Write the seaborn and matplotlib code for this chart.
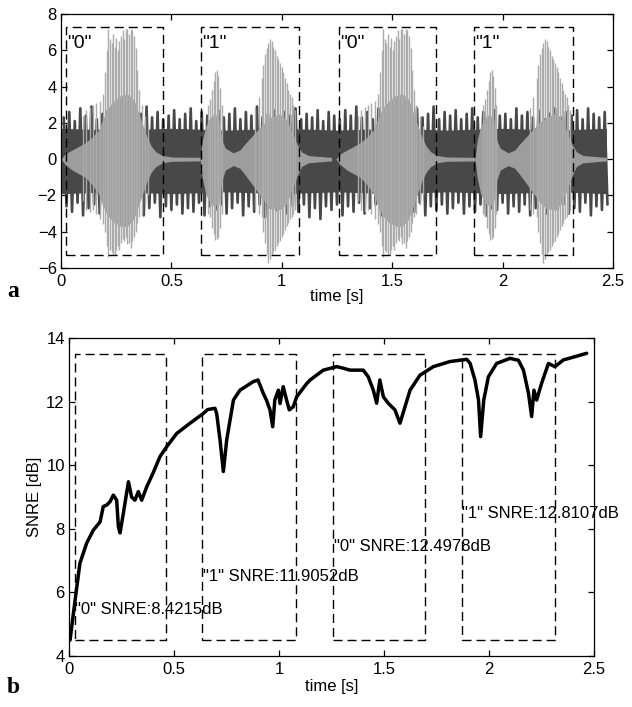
import numpy as np
import pandas as pd
import matplotlib
matplotlib.use("Agg")
import matplotlib.pyplot as plt
import seaborn as sns

# ---- panel a: waveform envelopes ----
# noise body envelope
noise_env_t = [0.0, 0.25, 0.5, 0.75, 1.0, 1.25, 1.5, 1.75, 2.0, 2.25, 2.47]
noise_env_hi = [1.7, 1.6, 1.7, 1.6, 1.7, 1.6, 1.7, 1.6, 1.7, 1.6, 1.7]
noise_env_lo = [-1.9, -1.8, -1.9, -1.8, -1.9, -1.8, -1.9, -1.8, -1.9, -1.8, -1.9]

# noise spike tips, one every 25 ms starting at 12.5 ms
noise_hi = [
    2.3, 2.6, 2.1, 2.8, 2.4, 2.9, 2.2, 2.5, 2.7, 2.1,
    2.6, 2.3, 2.8, 2.2, 2.5, 2.9, 2.3, 2.6, 2.2, 2.4,
    2.7, 2.2, 2.5, 2.8, 2.1, 2.6, 2.4, 2.2, 2.7, 2.3,
    2.5, 2.8, 2.2, 2.6, 2.4, 2.9, 2.3, 2.5, 2.7, 2.2,
    2.6, 2.4, 2.8, 2.2, 2.5, 2.3, 2.7, 2.1, 2.6, 2.4,
    2.2, 2.7, 2.4, 2.9, 2.3, 2.6, 2.2, 2.8, 2.5, 2.3,
    2.6, 2.2, 2.7, 2.4, 2.8, 2.3, 2.5, 2.9, 2.2, 2.6,
    2.4, 2.7, 2.2, 2.5, 2.8, 2.3, 2.6, 2.2, 2.7, 2.4,
    2.5, 2.2, 2.8, 2.4, 2.6, 2.3, 2.7, 2.2, 2.5, 2.8,
    2.3, 2.6, 2.4, 2.7, 2.2, 2.8, 2.5, 2.3, 2.6,
]
noise_lo = [
    -2.6, -2.9, -2.4, -3.1, -2.7, -2.5, -3.0, -2.6, -2.8, -2.4,
    -3.0, -2.6, -2.9, -2.5, -3.1, -2.7, -2.4, -3.2, -2.6, -2.8,
    -2.5, -3.0, -2.7, -2.9, -2.4, -3.1, -2.6, -2.8, -2.5, -3.0,
    -2.7, -2.4, -3.1, -2.6, -2.9, -2.5, -3.2, -2.7, -2.8, -2.4,
    -3.0, -2.6, -2.9, -2.5, -3.2, -2.7, -3.3, -2.6, -2.8, -2.5,
    -3.1, -2.6, -2.9, -2.4, -3.0, -2.7, -2.5, -3.1, -2.6, -2.8,
    -2.5, -3.0, -2.7, -2.9, -2.4, -3.1, -2.6, -2.8, -2.5, -3.0,
    -2.7, -2.4, -3.0, -2.6, -2.9, -2.5, -3.1, -2.7, -2.8, -2.4,
    -3.0, -2.6, -2.9, -2.5, -3.1, -2.7, -2.4, -3.0, -2.6, -2.8,
    -2.5, -3.0, -2.7, -2.9, -2.4, -3.1, -2.6, -2.8, -2.5,
]
noise_t = np.arange(len(noise_hi)) * 0.025 + 0.0125

# the two words, each said twice; shapes are relative to the word onset
word_labels = ['"0"', '"1"', '"0"', '"1"']
word_onsets = [0.0, 0.63, 1.245, 1.875]

zero_t = [0.00, 0.02, 0.05, 0.08, 0.11, 0.14, 0.17, 0.19, 0.21, 0.24, 0.27,
          0.30, 0.33, 0.35, 0.37, 0.39, 0.41, 0.43, 0.46, 0.50, 0.63]
zero_hi = [0.0, 0.3, 0.5, 0.7, 0.9, 1.2, 1.6, 2.2, 2.8, 3.2, 3.5,
           3.6, 3.3, 2.6, 1.9, 1.2, 0.7, 0.4, 0.2, 0.12, 0.1]
zero_lo = [0.0, -0.3, -0.6, -0.8, -1.0, -1.4, -1.9, -2.6, -3.1, -3.5, -3.7,
           -3.7, -3.3, -2.6, -1.9, -1.2, -0.7, -0.4, -0.2, -0.12, -0.1]
zero_sp_t = [0.10, 0.115, 0.13, 0.145, 0.16, 0.175, 0.19, 0.200, 0.207, 0.214,
             0.221, 0.229, 0.236, 0.243, 0.250, 0.258, 0.265, 0.272, 0.280, 0.287,
             0.294, 0.301, 0.309, 0.316, 0.323, 0.330, 0.338, 0.345, 0.355, 0.365,
             0.38, 0.395]
zero_sp_hi = [2.4, 2.7, 2.9, 3.0, 3.1, 3.2, 3.6, 4.8, 6.0, 7.2,
              6.6, 6.4, 6.9, 6.2, 6.7, 6.0, 6.5, 6.8, 7.1, 6.6,
              7.2, 7.2, 6.9, 7.2, 7.1, 6.8, 6.1, 4.9, 3.8, 3.0,
              2.4, 1.8]
zero_sp_lo = [-2.3, -2.8, -2.9, -2.8, -3.0, -3.3, -3.6, -4.0, -4.8, -5.4,
              -5.0, -5.1, -5.3, -5.3, -5.0, -4.8, -5.0, -4.6, -4.4, -4.5,
              -4.3, -4.7, -4.6, -4.9, -4.5, -4.3, -4.0, -3.5, -3.2, -3.0,
              -2.5, -2.0]

one_t = [0.0, 0.01, 0.025, 0.045, 0.065, 0.085, 0.10, 0.115, 0.15, 0.18, 0.20, 0.23,
         0.26, 0.29, 0.32, 0.36, 0.39, 0.42, 0.44, 0.46, 0.49, 0.57, 0.595]
one_hi = [0.0, 1.0, 1.8, 2.3, 2.5, 2.2, 1.0, 0.6, 0.35, 0.5, 0.8, 1.2,
          1.6, 2.0, 2.3, 2.5, 2.2, 1.4, 0.8, 0.4, 0.2, 0.12, 0.1]
one_lo = [0.0, -1.0, -1.9, -2.4, -2.6, -2.4, -1.1, -0.6, -0.35, -0.5, -0.8, -1.3,
          -1.8, -2.3, -2.7, -2.8, -2.5, -1.6, -0.9, -0.4, -0.2, -0.12, -0.1]
one_sp_t = [0.035, 0.045, 0.055, 0.062, 0.069, 0.076, 0.083, 0.090, 0.097,
            0.25, 0.265, 0.279, 0.286, 0.294, 0.302, 0.309, 0.317, 0.324, 0.332,
            0.339, 0.347, 0.354, 0.362, 0.37, 0.377, 0.384, 0.392, 0.40, 0.407,
            0.415, 0.422, 0.43]
one_sp_hi = [3.0, 3.3, 3.8, 4.3, 4.8, 4.9, 4.6, 3.9, 3.0,
             2.8, 3.4, 4.5, 5.2, 5.8, 6.1, 6.4, 6.6, 6.5, 6.2,
             6.0, 5.7, 5.5, 5.3, 5.1, 4.8, 4.5, 4.2, 3.8, 3.6,
             3.4, 3.0, 2.7]
one_sp_lo = [-3.0, -3.2, -3.8, -4.1, -4.45, -4.4, -4.3, -3.8, -3.0,
             -2.8, -3.0, -3.2, -4.0, -4.6, -5.2, -5.7, -5.5, -5.3, -5.1,
             -5.0, -4.8, -4.6, -4.5, -4.3, -4.1, -3.9, -3.7, -3.5, -3.3,
             -3.2, -3.0, -2.8]

# dashed word boxes
boxes_a_x = [(0.023, 0.46), (0.634, 1.08), (1.26, 1.70), (1.87, 2.32)]
boxes_a_y = (-5.3, 7.3)

# ---- panel b: SNRE over time ----
snre_t = [0.005, 0.029, 0.052, 0.084, 0.116, 0.148, 0.163, 0.18, 0.195, 0.211,
          0.227, 0.235, 0.243, 0.259, 0.283, 0.298, 0.314, 0.33, 0.346, 0.37,
          0.40, 0.433, 0.465, 0.513, 0.576, 0.64, 0.66, 0.695, 0.703, 0.719,
          0.735, 0.751, 0.783, 0.814, 0.878, 0.90, 0.925, 0.94, 0.957, 0.97,
          0.98, 0.997, 1.005, 1.02, 1.036, 1.049, 1.068, 1.084, 1.132, 1.148,
          1.211, 1.275, 1.306, 1.338, 1.401, 1.425, 1.449, 1.465, 1.48, 1.497,
          1.52, 1.552, 1.576, 1.60, 1.624, 1.671, 1.735, 1.814, 1.894, 1.91,
          1.933, 1.95, 1.96, 1.975, 1.997, 2.036, 2.10, 2.14, 2.164, 2.188,
          2.203, 2.214, 2.227, 2.25, 2.283, 2.314, 2.354, 2.418, 2.465]
snre_db = [4.5, 5.76, 6.92, 7.55, 7.96, 8.22, 8.7, 8.75, 8.85, 9.06,
           8.9, 8.07, 7.87, 8.5, 9.48, 9.0, 8.9, 9.17, 8.9, 9.32,
           9.75, 10.27, 10.58, 11.0, 11.32, 11.63, 11.75, 11.79, 11.63, 10.8,
           9.8, 10.8, 12.05, 12.36, 12.63, 12.68, 12.26, 12.05, 11.74, 11.21,
           12.05, 12.36, 11.94, 12.47, 12.05, 11.74, 11.84, 12.15, 12.57, 12.68,
           12.99, 13.1, 13.05, 12.99, 12.99, 12.78, 12.36, 11.95, 12.68, 12.15,
           11.95, 11.74, 11.32, 11.84, 12.36, 12.83, 13.1, 13.26, 13.33, 13.2,
           12.68, 12.05, 10.9, 12.05, 12.78, 13.2, 13.36, 13.3, 12.99, 12.26,
           11.53, 12.36, 12.05, 12.57, 13.2, 13.1, 13.31, 13.43, 13.52]

boxes_b_x = [(0.027, 0.462), (0.635, 1.082), (1.259, 1.697), (1.87, 2.314)]
boxes_b_y = (4.5, 13.5)
snre_labels = ['"0" SNRE:8.4215dB', '"1" SNRE:11.9052dB',
               '"0" SNRE:12.4978dB', '"1" SNRE:12.8107dB']
snre_label_y = [5.45, 6.49, 7.44, 8.49]

# ---- style ----
sns.set_style("ticks", {"xtick.direction": "in", "ytick.direction": "in"})
plt.rcParams["font.family"] = ["Liberation Sans", "DejaVu Sans"]
plt.rcParams["font.size"] = 12
plt.rcParams["axes.linewidth"] = 0.9
plt.rcParams["axes.edgecolor"] = "black"
plt.rcParams["text.color"] = "black"
plt.rcParams["axes.labelcolor"] = "black"

NOISE = "#484848"
SPEECH = "#9d9d9d"
SPIKE = "#ababab"
dash = (0, (6.5, 3.6))

fig = plt.figure(figsize=(6.32, 7.07), dpi=100)
ax_a = fig.add_axes([0.0965, 0.6209, 0.8734, 0.3593])
ax_b = fig.add_axes([0.1092, 0.0721, 0.8307, 0.4498])

# panel a: noise first (zigzag between its spike tips), clean speech on top
ax_a.fill_between(noise_env_t, noise_env_lo, noise_env_hi, color=NOISE, lw=0, zorder=1)
zig_t = np.ravel(np.column_stack([noise_t, noise_t + 0.0125]))
zig_v = np.ravel(np.column_stack([noise_hi, noise_lo]))
ax_a.plot(zig_t, zig_v, color=NOISE, lw=1.9, zorder=1.2)

for label, onset in zip(word_labels, word_onsets):
    if label == '"0"':
        t, hi, lo, st, sh, sl = zero_t, zero_hi, zero_lo, zero_sp_t, zero_sp_hi, zero_sp_lo
    else:
        t, hi, lo, st, sh, sl = one_t, one_hi, one_lo, one_sp_t, one_sp_hi, one_sp_lo
    tt = np.array(t) + onset
    ax_a.fill_between(tt, lo, hi, color=SPEECH, lw=0, zorder=1.5)
    ax_a.vlines(np.array(st) + onset, sl, sh, color=SPIKE, lw=1.0, zorder=1.6)

for (x0, x1), label in zip(boxes_a_x, word_labels):
    ax_a.plot([x0, x1, x1, x0, x0],
              [boxes_a_y[0], boxes_a_y[0], boxes_a_y[1], boxes_a_y[1], boxes_a_y[0]],
              color="black", lw=1.0, ls=dash, zorder=3)
    ax_a.text(x0 + 0.004, 6.35, label, fontsize=14, va="center", ha="left", zorder=4)

ax_a.set_xlim(0, 2.5)
ax_a.set_ylim(-6, 8)
ax_a.set_xticks([0, 0.5, 1, 1.5, 2, 2.5])
ax_a.set_xticklabels(["0", "0.5", "1", "1.5", "2", "2.5"])
ax_a.set_yticks(np.arange(-6, 9, 2))
ax_a.set_xlabel("time [s]", labelpad=0)

# panel b
df = pd.DataFrame({"time": snre_t, "snre": snre_db})
sns.lineplot(data=df, x="time", y="snre", ax=ax_b, color="black", lw=2.5,
             sort=False, estimator=None)
for (x0, x1), txt, ty in zip(boxes_b_x, snre_labels, snre_label_y):
    ax_b.plot([x0, x1, x1, x0, x0],
              [boxes_b_y[0], boxes_b_y[0], boxes_b_y[1], boxes_b_y[1], boxes_b_y[0]],
              color="black", lw=1.0, ls=dash)
    ax_b.text(x0 + 0.003, ty, txt, fontsize=12, va="center", ha="left")

ax_b.set_xlim(0, 2.5)
ax_b.set_ylim(4, 14)
ax_b.set_xticks([0, 0.5, 1, 1.5, 2, 2.5])
ax_b.set_xticklabels(["0", "0.5", "1", "1.5", "2", "2.5"])
ax_b.set_yticks([4, 6, 8, 10, 12, 14])
ax_b.set_xlabel("time [s]", labelpad=2)
ax_b.set_ylabel("SNRE [dB]", labelpad=3)

for ax in (ax_a, ax_b):
    ax.tick_params(direction="in", length=4, width=0.9, top=True, right=True,
                   labelsize=12, pad=4, colors="black")
    ax.tick_params(axis="y", pad=3)
    for s in ax.spines.values():
        s.set_visible(True)
        s.set_color("black")

fig.text(0.011, 1 - 297 / 707, "a", fontsize=17, fontweight="bold",
         family="Liberation Serif", va="baseline")
fig.text(0.011, 1 - 693 / 707, "b", fontsize=17, fontweight="bold",
         family="Liberation Serif", va="baseline")

fig.savefig("out.png", dpi=100)
